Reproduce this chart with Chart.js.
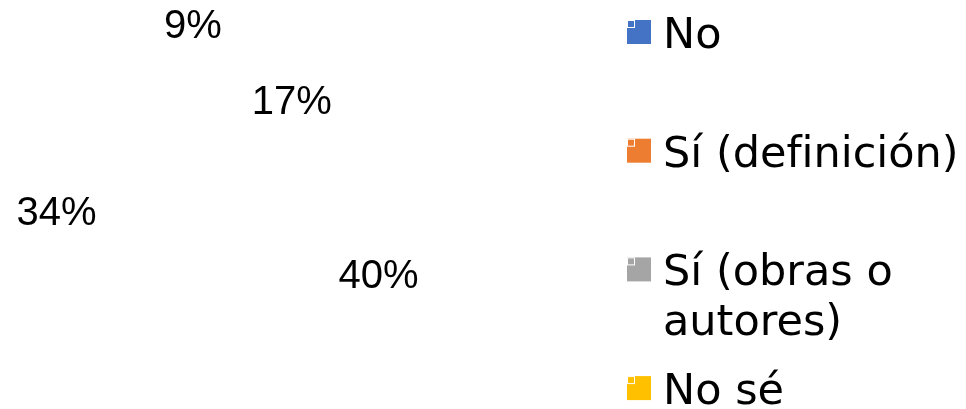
<!DOCTYPE html>
<html lang="es">
<head>
<meta charset="utf-8">
<title>Respuestas</title>
<script src="https://cdn.jsdelivr.net/npm/chart.js@4/dist/chart.umd.min.js"></script>
<style>
  html, body { margin: 0; padding: 0; background: #fff; }
  #wrap { position: relative; width: 966px; height: 409px; }
</style>
</head>
<body>
<div id="wrap"><canvas id="grafico"></canvas></div>
<script>
// datos del gráfico
const categorias = ['No', 'Sí (definición)', 'Sí (obras o autores)', 'No sé'];
const porcentajes = [9, 17, 40, 34];
const colores = ['#4472C4', '#ED7D31', '#A5A5A5', '#FFC000'];
// líneas del texto de la leyenda (ajuste como en el original)
const lineasLeyenda = [['No'], ['Sí (definición)'], ['Sí (obras o', 'autores)'], ['No sé']];
// distancia de cada etiqueta al centro, en fracción del radio
const distEtiqueta = [0.93, 0.485, 0.867, 1.117];

// etiquetas de porcentaje sobre cada sector
const etiquetas = {
  id: 'etiquetas',
  afterDatasetsDraw(chart) {
    const ctx = chart.ctx;
    const meta = chart.getDatasetMeta(0);
    ctx.save();
    ctx.font = '40px "Liberation Sans", Arial, sans-serif';
    ctx.fillStyle = '#000';
    ctx.textAlign = 'center';
    ctx.textBaseline = 'middle';
    meta.data.forEach((arc, i) => {
      const p = arc.getProps(['x', 'y', 'startAngle', 'endAngle', 'outerRadius'], true);
      const mid = (p.startAngle + p.endAngle) / 2;
      const r = p.outerRadius * distEtiqueta[i];
      ctx.fillText(porcentajes[i] + '%', p.x + Math.cos(mid) * r, p.y + Math.sin(mid) * r + 2);
    });
    ctx.restore();
  }
};

// leyenda a la derecha, con texto en varias líneas
const leyenda = {
  id: 'leyenda',
  afterDraw(chart) {
    const ctx = chart.ctx;
    const x0 = 627, y0 = 32, paso = 118.7, caja = 24, interlinea = 50;
    ctx.save();
    ctx.font = '43px "DejaVu Sans", Verdana, sans-serif';
    ctx.textBaseline = 'alphabetic';
    ctx.textAlign = 'left';
    categorias.forEach((c, i) => {
      const cy = y0 + i * paso;
      ctx.fillStyle = colores[i];
      ctx.fillRect(x0, cy - caja / 2, caja, caja);
      ctx.strokeStyle = '#fff';
      ctx.lineWidth = 1;
      ctx.strokeRect(x0 + 0.5, cy - caja / 2 + 0.5, 7, 7);
      ctx.fillStyle = '#000';
      lineasLeyenda[i].forEach((t, k) => {
        ctx.fillText(t, x0 + 36, cy + 16 + k * interlinea);
      });
    });
    ctx.restore();
  }
};

const ctx = document.getElementById('grafico').getContext('2d');
new Chart(ctx, {
  type: 'pie',
  data: {
    labels: categorias,
    datasets: [{
      data: porcentajes,
      backgroundColor: 'rgba(0,0,0,0)', // sectores sin relleno, como en el original
      borderWidth: 0
    }]
  },
  options: {
    responsive: true,
    maintainAspectRatio: false,
    animation: false,
    rotation: -38,
    layout: { padding: { left: 0, top: 0, right: 456, bottom: 49 } },
    plugins: {
      legend: { display: false },
      tooltip: { enabled: false }
    }
  },
  plugins: [etiquetas, leyenda]
});
</script>
</body>
</html>
